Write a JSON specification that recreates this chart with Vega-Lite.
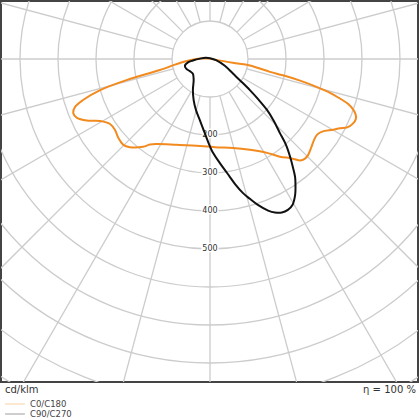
{
  "$schema": "https://vega.github.io/schema/vega-lite/v6.json",
  "width": 417,
  "height": 381,
  "autosize": {"type": "none"},
  "padding": {"left": 1, "top": 1, "right": 2, "bottom": 38},
  "background": "white",
  "config": {
    "view": {"stroke": "#444444", "strokeWidth": 2},
    "font": "DejaVu Sans"
  },
  "layer": [
    {
      "data": {"values": [{"r": 100}, {"r": 200}, {"r": 300}, {"r": 400}, {"r": 500}, {"r": 600}, {"r": 700}, {"r": 800}, {"r": 900}, {"r": 1000}, {"r": 1100}]},
      "mark": {"type": "arc", "theta": 0, "theta2": 6.2832, "filled": false, "stroke": "#cccccc", "strokeWidth": 1.3, "clip": true},
      "encoding": {
        "x": {"datum": 0, "type": "quantitative", "scale": {"domain": [-550, 547.4], "nice": false, "zero": false}, "axis": null},
        "y": {"datum": 0, "type": "quantitative", "scale": {"domain": [-152.6, 850], "nice": false, "zero": false, "reverse": true}, "axis": null},
        "radius": {"field": "r", "type": "quantitative", "stack": null, "scale": {"type": "linear", "domain": [0, 1100], "range": [0, 418]}, "legend": null}
      }
    },
    {
      "data": {"values": [
        {"x": 0, "y": 100, "x2": 0, "y2": 1200},
        {"x": 25.9, "y": 96.6, "x2": 310.6, "y2": 1159.1},
        {"x": 50, "y": 86.6, "x2": 600, "y2": 1039.2},
        {"x": 70.7, "y": 70.7, "x2": 848.5, "y2": 848.5},
        {"x": 86.6, "y": 50, "x2": 1039.2, "y2": 600},
        {"x": 96.6, "y": 25.9, "x2": 1159.1, "y2": 310.6},
        {"x": 100, "y": 0, "x2": 1200, "y2": 0},
        {"x": 96.6, "y": -25.9, "x2": 1159.1, "y2": -310.6},
        {"x": 86.6, "y": -50, "x2": 1039.2, "y2": -600},
        {"x": 70.7, "y": -70.7, "x2": 848.5, "y2": -848.5},
        {"x": 50, "y": -86.6, "x2": 600, "y2": -1039.2},
        {"x": 25.9, "y": -96.6, "x2": 310.6, "y2": -1159.1},
        {"x": 0, "y": -100, "x2": 0, "y2": -1200},
        {"x": -25.9, "y": 96.6, "x2": -310.6, "y2": 1159.1},
        {"x": -50, "y": 86.6, "x2": -600, "y2": 1039.2},
        {"x": -70.7, "y": 70.7, "x2": -848.5, "y2": 848.5},
        {"x": -86.6, "y": 50, "x2": -1039.2, "y2": 600},
        {"x": -96.6, "y": 25.9, "x2": -1159.1, "y2": 310.6},
        {"x": -100, "y": 0, "x2": -1200, "y2": 0},
        {"x": -96.6, "y": -25.9, "x2": -1159.1, "y2": -310.6},
        {"x": -86.6, "y": -50, "x2": -1039.2, "y2": -600},
        {"x": -70.7, "y": -70.7, "x2": -848.5, "y2": -848.5},
        {"x": -50, "y": -86.6, "x2": -600, "y2": -1039.2},
        {"x": -25.9, "y": -96.6, "x2": -310.6, "y2": -1159.1}
      ]},
      "mark": {"type": "rule", "color": "#cccccc", "strokeWidth": 1.3, "clip": true},
      "encoding": {
        "x": {"field": "x", "type": "quantitative", "axis": null},
        "y": {"field": "y", "type": "quantitative", "axis": null},
        "x2": {"field": "x2"},
        "y2": {"field": "y2"}
      }
    },
    {
      "data": {"values": [{"r": 200}, {"r": 300}, {"r": 400}, {"r": 500}]},
      "mark": {"type": "text", "fontSize": 8, "stroke": "white", "strokeWidth": 3, "fill": "white", "baseline": "middle", "align": "center"},
      "encoding": {
        "x": {"datum": 0, "type": "quantitative", "axis": null},
        "y": {"field": "r", "type": "quantitative", "axis": null},
        "text": {"field": "r", "type": "quantitative"}
      }
    },
    {
      "data": {"values": [{"r": 200}, {"r": 300}, {"r": 400}, {"r": 500}]},
      "mark": {"type": "text", "fontSize": 8, "fill": "#333333", "baseline": "middle", "align": "center"},
      "encoding": {
        "x": {"datum": 0, "type": "quantitative", "axis": null},
        "y": {"field": "r", "type": "quantitative", "axis": null},
        "text": {"field": "r", "type": "quantitative"}
      }
    },
    {
      "data": {"values": [
        {"series": "C0/C180", "i": 0, "x": 0, "y": -1},
        {"series": "C0/C180", "i": 1, "x": 60, "y": 10},
        {"series": "C0/C180", "i": 2, "x": 105, "y": 17},
        {"series": "C0/C180", "i": 3, "x": 158, "y": 34},
        {"series": "C0/C180", "i": 4, "x": 192, "y": 43},
        {"series": "C0/C180", "i": 5, "x": 237, "y": 57},
        {"series": "C0/C180", "i": 6, "x": 282, "y": 74},
        {"series": "C0/C180", "i": 7, "x": 316, "y": 89},
        {"series": "C0/C180", "i": 8, "x": 342, "y": 104},
        {"series": "C0/C180", "i": 9, "x": 363, "y": 118},
        {"series": "C0/C180", "i": 10, "x": 376, "y": 132},
        {"series": "C0/C180", "i": 11, "x": 383, "y": 145},
        {"series": "C0/C180", "i": 12, "x": 384, "y": 157},
        {"series": "C0/C180", "i": 13, "x": 376, "y": 170},
        {"series": "C0/C180", "i": 14, "x": 361, "y": 180},
        {"series": "C0/C180", "i": 15, "x": 342, "y": 182},
        {"series": "C0/C180", "i": 16, "x": 324, "y": 186},
        {"series": "C0/C180", "i": 17, "x": 295, "y": 191},
        {"series": "C0/C180", "i": 18, "x": 282, "y": 199},
        {"series": "C0/C180", "i": 19, "x": 274, "y": 213},
        {"series": "C0/C180", "i": 20, "x": 266, "y": 234},
        {"series": "C0/C180", "i": 21, "x": 258, "y": 253},
        {"series": "C0/C180", "i": 22, "x": 250, "y": 262},
        {"series": "C0/C180", "i": 23, "x": 237, "y": 267},
        {"series": "C0/C180", "i": 24, "x": 224, "y": 264},
        {"series": "C0/C180", "i": 25, "x": 211, "y": 261},
        {"series": "C0/C180", "i": 26, "x": 184, "y": 257},
        {"series": "C0/C180", "i": 27, "x": 150, "y": 247},
        {"series": "C0/C180", "i": 28, "x": 105, "y": 239},
        {"series": "C0/C180", "i": 29, "x": 61, "y": 234},
        {"series": "C0/C180", "i": 30, "x": 13, "y": 232},
        {"series": "C0/C180", "i": 31, "x": -26, "y": 229},
        {"series": "C0/C180", "i": 32, "x": -88, "y": 226},
        {"series": "C0/C180", "i": 33, "x": -139, "y": 224},
        {"series": "C0/C180", "i": 34, "x": -158, "y": 225},
        {"series": "C0/C180", "i": 35, "x": -176, "y": 231},
        {"series": "C0/C180", "i": 36, "x": -211, "y": 232},
        {"series": "C0/C180", "i": 37, "x": -228, "y": 226},
        {"series": "C0/C180", "i": 38, "x": -241, "y": 208},
        {"series": "C0/C180", "i": 39, "x": -250, "y": 187},
        {"series": "C0/C180", "i": 40, "x": -263, "y": 171},
        {"series": "C0/C180", "i": 41, "x": -289, "y": 163},
        {"series": "C0/C180", "i": 42, "x": -324, "y": 162},
        {"series": "C0/C180", "i": 43, "x": -350, "y": 155},
        {"series": "C0/C180", "i": 44, "x": -360, "y": 142},
        {"series": "C0/C180", "i": 45, "x": -355, "y": 126},
        {"series": "C0/C180", "i": 46, "x": -334, "y": 108},
        {"series": "C0/C180", "i": 47, "x": -289, "y": 82},
        {"series": "C0/C180", "i": 48, "x": -218, "y": 55},
        {"series": "C0/C180", "i": 49, "x": -132, "y": 29},
        {"series": "C0/C180", "i": 50, "x": -71, "y": 8},
        {"series": "C0/C180", "i": 51, "x": -26, "y": -1},
        {"series": "C0/C180", "i": 52, "x": 0, "y": -1},
        {"series": "C90/C270", "i": 0, "x": 0, "y": -2},
        {"series": "C90/C270", "i": 1, "x": 16, "y": 3},
        {"series": "C90/C270", "i": 2, "x": 39, "y": 18},
        {"series": "C90/C270", "i": 3, "x": 61, "y": 39},
        {"series": "C90/C270", "i": 4, "x": 84, "y": 61},
        {"series": "C90/C270", "i": 5, "x": 105, "y": 82},
        {"series": "C90/C270", "i": 6, "x": 126, "y": 105},
        {"series": "C90/C270", "i": 7, "x": 150, "y": 134},
        {"series": "C90/C270", "i": 8, "x": 168, "y": 163},
        {"series": "C90/C270", "i": 9, "x": 184, "y": 195},
        {"series": "C90/C270", "i": 10, "x": 200, "y": 226},
        {"series": "C90/C270", "i": 11, "x": 211, "y": 258},
        {"series": "C90/C270", "i": 12, "x": 218, "y": 284},
        {"series": "C90/C270", "i": 13, "x": 224, "y": 311},
        {"series": "C90/C270", "i": 14, "x": 225, "y": 337},
        {"series": "C90/C270", "i": 15, "x": 224, "y": 358},
        {"series": "C90/C270", "i": 16, "x": 217, "y": 384},
        {"series": "C90/C270", "i": 17, "x": 205, "y": 397},
        {"series": "C90/C270", "i": 18, "x": 189, "y": 404},
        {"series": "C90/C270", "i": 19, "x": 171, "y": 404},
        {"series": "C90/C270", "i": 20, "x": 153, "y": 399},
        {"series": "C90/C270", "i": 21, "x": 126, "y": 384},
        {"series": "C90/C270", "i": 22, "x": 105, "y": 368},
        {"series": "C90/C270", "i": 23, "x": 87, "y": 353},
        {"series": "C90/C270", "i": 24, "x": 66, "y": 329},
        {"series": "C90/C270", "i": 25, "x": 45, "y": 300},
        {"series": "C90/C270", "i": 26, "x": 26, "y": 274},
        {"series": "C90/C270", "i": 27, "x": 8, "y": 247},
        {"series": "C90/C270", "i": 28, "x": -5, "y": 218},
        {"series": "C90/C270", "i": 29, "x": -16, "y": 189},
        {"series": "C90/C270", "i": 30, "x": -26, "y": 163},
        {"series": "C90/C270", "i": 31, "x": -37, "y": 134},
        {"series": "C90/C270", "i": 32, "x": -43, "y": 108},
        {"series": "C90/C270", "i": 33, "x": -45, "y": 82},
        {"series": "C90/C270", "i": 34, "x": -43, "y": 55},
        {"series": "C90/C270", "i": 35, "x": -45, "y": 39},
        {"series": "C90/C270", "i": 36, "x": -53, "y": 32},
        {"series": "C90/C270", "i": 37, "x": -62, "y": 26},
        {"series": "C90/C270", "i": 38, "x": -66, "y": 18},
        {"series": "C90/C270", "i": 39, "x": -58, "y": 9},
        {"series": "C90/C270", "i": 40, "x": -45, "y": 4},
        {"series": "C90/C270", "i": 41, "x": -26, "y": -1},
        {"series": "C90/C270", "i": 42, "x": -11, "y": -3},
        {"series": "C90/C270", "i": 43, "x": 0, "y": -2}
      ]},
      "mark": {"type": "line", "strokeWidth": 2, "interpolate": "catmull-rom", "clip": true},
      "encoding": {
        "x": {"field": "x", "type": "quantitative", "axis": null},
        "y": {"field": "y", "type": "quantitative", "axis": null},
        "order": {"field": "i", "type": "quantitative"},
        "color": {
          "field": "series", "type": "nominal",
          "scale": {"domain": ["C0/C180", "C90/C270"], "range": ["#f28a1e", "#111111"]},
          "legend": {
            "orient": "none", "legendX": 9, "legendY": 398, "title": null,
            "symbolType": "M-2.2,0H2.2", "symbolSize": 81, "symbolStrokeWidth": 1, "symbolOpacity": 0.4,
            "labelFontSize": 8.5, "labelColor": "#444444", "labelFont": "DejaVu Sans",
            "rowPadding": 0, "padding": 0, "labelOffset": 10
          }
        }
      }
    },
    {
      "data": {"values": [{"label": "cd/klm"}]},
      "mark": {"type": "text", "fontSize": 10, "fill": "#333333", "align": "left", "baseline": "alphabetic"},
      "encoding": {
        "x": {"datum": -539.5, "type": "quantitative", "axis": null},
        "y": {"datum": 879, "type": "quantitative", "axis": null},
        "text": {"field": "label"}
      }
    },
    {
      "data": {"values": [{"label": "η = 100 %"}]},
      "mark": {"type": "text", "fontSize": 10, "fill": "#333333", "align": "right", "baseline": "alphabetic"},
      "encoding": {
        "x": {"datum": 542, "type": "quantitative", "axis": null},
        "y": {"datum": 879, "type": "quantitative", "axis": null},
        "text": {"field": "label"}
      }
    }
  ]
}
